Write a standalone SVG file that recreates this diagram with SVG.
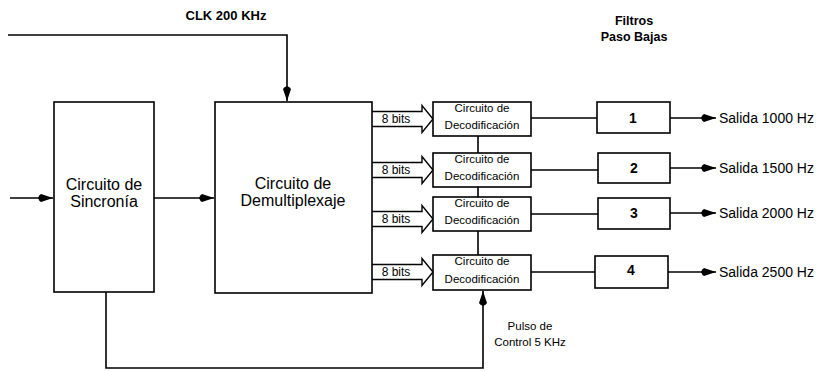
<svg xmlns="http://www.w3.org/2000/svg" width="819" height="371" viewBox="0 0 819 371">
<style>
.box{fill:#fff;stroke:#000;stroke-width:1.6}
.ln{fill:none;stroke:#000;stroke-width:1.6}
.wa{fill:#fff;stroke:#000;stroke-width:1.4}
text{font-family:"Liberation Sans",Arial,sans-serif;fill:#000}
.big{font-size:16px;text-anchor:middle}
.dec{font-size:11.5px;text-anchor:middle}
.bits{font-size:12px;text-anchor:middle}
.num{font-size:14px;font-weight:bold;text-anchor:middle}
.out{font-size:14px}
.lbl{font-size:12.5px;font-weight:bold;text-anchor:middle}
.ctl{font-size:11.5px;text-anchor:middle}
</style>
<defs>
<marker id="ah" markerUnits="userSpaceOnUse" markerWidth="16" markerHeight="9" refX="15" refY="4.5" orient="auto">
<path d="M0,4.5 Q1,1.5 3,0.5 L15,4.5 L3,8.5 Q1,7.5 0,4.5 z" fill="#000"/>
</marker>
</defs>
<g id="connectors">
<path class="ln" d="M8,35 H287 V101" marker-end="url(#ah)"/>
<path class="ln" d="M10,198 H53" marker-end="url(#ah)"/>
<path class="ln" d="M154,198 H214" marker-end="url(#ah)"/>
<path class="ln" d="M106,292 V368 H483 V291" marker-end="url(#ah)"/>
<path class="ln" d="M478,136 V153 M478,187 V197 M478,231 V255"/>
<path class="ln" d="M531,118 H597 M531,170 H598 M531,214 H598 M531,272 H595"/>
<path class="ln" d="M670,118 H716" marker-end="url(#ah)"/>
<path class="ln" d="M670,168 H716" marker-end="url(#ah)"/>
<path class="ln" d="M670,213 H716" marker-end="url(#ah)"/>
<path class="ln" d="M668,272 H716" marker-end="url(#ah)"/>
<g id="bus1"><path class="wa" d="M372,111.5 H422 V105.5 L433,119 L422,132.5 V126.5 H372"/><text class="bits" x="396" y="123">8 bits</text></g>
<g id="bus2"><path class="wa" d="M372,162.5 H422 V156.5 L433,170 L422,183.5 V177.5 H372"/><text class="bits" x="396" y="174">8 bits</text></g>
<g id="bus3"><path class="wa" d="M372,211.5 H422 V205.5 L433,219 L422,232.5 V226.5 H372"/><text class="bits" x="396" y="223">8 bits</text></g>
<g id="bus4"><path class="wa" d="M372,264.5 H422 V258.5 L433,272 L422,285.5 V279.5 H372"/><text class="bits" x="396" y="276">8 bits</text></g>
</g>
<text class="lbl" x="226" y="20" style="font-size:13px">CLK 200 KHz</text>
<g id="filtros-label">
<text class="lbl" x="634" y="25">Filtros</text>
<text class="lbl" x="634" y="41">Paso Bajas</text>
</g>
<g id="sincronia">
<rect class="box" x="54" y="102" width="100" height="190"/>
<text class="big" x="104" y="190">Circuito de</text>
<text class="big" x="104" y="207">Sincronía</text>
</g>
<g id="demux">
<rect class="box" x="215" y="102" width="157" height="191"/>
<text class="big" x="293" y="189">Circuito de</text>
<text class="big" x="293" y="206">Demultiplexaje</text>
</g>
<g id="dec1">
<rect class="box" x="433" y="102" width="98" height="34"/>
<text class="dec" x="482" y="112">Circuito de</text>
<text class="dec" x="482" y="129">Decodificación</text>
</g>
<g id="dec2">
<rect class="box" x="433" y="153" width="98" height="34"/>
<text class="dec" x="482" y="163">Circuito de</text>
<text class="dec" x="482" y="180">Decodificación</text>
</g>
<g id="dec3">
<rect class="box" x="433" y="197" width="98" height="34"/>
<text class="dec" x="482" y="207">Circuito de</text>
<text class="dec" x="482" y="224">Decodificación</text>
</g>
<g id="dec4">
<rect class="box" x="433" y="255" width="98" height="35"/>
<text class="dec" x="482" y="265">Circuito de</text>
<text class="dec" x="482" y="283">Decodificación</text>
</g>
<g id="f1"><rect class="box" x="597" y="102" width="73" height="31"/><text class="num" x="633" y="123">1</text></g>
<g id="f2"><rect class="box" x="598" y="153" width="72" height="30"/><text class="num" x="634" y="173">2</text></g>
<g id="f3"><rect class="box" x="598" y="198" width="72" height="31"/><text class="num" x="634" y="218">3</text></g>
<g id="f4"><rect class="box" x="595" y="256" width="73" height="32"/><text class="num" x="631" y="275">4</text></g>
<text class="out" x="719" y="123">Salida 1000 Hz</text>
<text class="out" x="719" y="173">Salida 1500 Hz</text>
<text class="out" x="719" y="218">Salida 2000 Hz</text>
<text class="out" x="719" y="277">Salida 2500 Hz</text>
<g id="pulso-label">
<text class="ctl" x="530" y="330">Pulso de</text>
<text class="ctl" x="530" y="346">Control 5 KHz</text>
</g>
</svg>
